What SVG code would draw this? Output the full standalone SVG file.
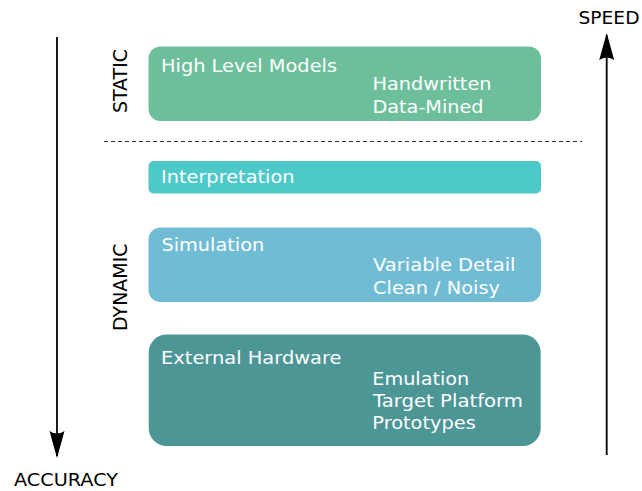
<svg xmlns="http://www.w3.org/2000/svg" width="642" height="491" viewBox="0 0 642 491">
  <defs>
    <style>
      text { font-family: "DejaVu Sans", "Liberation Sans", sans-serif; font-size: 18px; }
      .lbl { fill: #ffffff; }
      .axis { fill: #000000; }
      .axisline { stroke: #000000; stroke-width: 1.8; fill: none; }
      .sep { stroke: #333333; stroke-width: 1; stroke-dasharray: 4 3; fill: none; }
    </style>
    <marker id="arrow" markerUnits="userSpaceOnUse" viewBox="0 0 27 16" refX="25" refY="8" markerWidth="27" markerHeight="16" orient="auto">
      <path d="M27,8 L0,0.5 Q5,8 0,15.5 Z" fill="#000000"/>
    </marker>
  </defs>
  <rect width="642" height="491" fill="#ffffff"/>

  <g id="connectors">
    <line class="axisline" x1="57" y1="37" x2="57" y2="456" marker-end="url(#arrow)"/>
    <line class="axisline" x1="606.7" y1="455" x2="606.7" y2="35" marker-end="url(#arrow)"/>
    <line class="sep" x1="104" y1="141.5" x2="582" y2="141.5"/>
  </g>

  <g id="axis-labels">
    <text class="axis" x="578.5" y="24.3" textLength="61" lengthAdjust="spacingAndGlyphs">SPEED</text>
    <text class="axis" x="14" y="486" textLength="104" lengthAdjust="spacingAndGlyphs">ACCURACY</text>
    <text class="axis" transform="translate(126.5,113) scale(1.07,1) rotate(-90)" x="0" y="0" textLength="64" lengthAdjust="spacingAndGlyphs">STATIC</text>
    <text class="axis" transform="translate(126.5,331) scale(1.07,1) rotate(-90)" x="0" y="0" textLength="87.5" lengthAdjust="spacingAndGlyphs">DYNAMIC</text>
  </g>

  <g id="high-level-models">
    <rect x="148.5" y="46.5" width="392.5" height="74.5" rx="12" ry="12" fill="#6dbf9b"/>
    <text class="lbl" x="161" y="71.5" textLength="176" lengthAdjust="spacingAndGlyphs">High Level Models</text>
    <text class="lbl" x="372.5" y="89.5" textLength="119" lengthAdjust="spacingAndGlyphs">Handwritten</text>
    <text class="lbl" x="372.5" y="112.5" textLength="111" lengthAdjust="spacingAndGlyphs">Data-Mined</text>
  </g>

  <g id="interpretation">
    <rect x="148.5" y="161" width="392.5" height="32.5" rx="5" ry="5" fill="#4ec9c9"/>
    <text class="lbl" x="161" y="182.5" textLength="133.5" lengthAdjust="spacingAndGlyphs">Interpretation</text>
  </g>

  <g id="simulation">
    <rect x="148.5" y="227.5" width="392.5" height="74.5" rx="12" ry="12" fill="#70bcd5"/>
    <text class="lbl" x="161.5" y="250.5" textLength="102.7" lengthAdjust="spacingAndGlyphs">Simulation</text>
    <text class="lbl" x="373" y="271" textLength="142.5" lengthAdjust="spacingAndGlyphs">Variable Detail</text>
    <text class="lbl" x="373" y="293.5" textLength="127" lengthAdjust="spacingAndGlyphs">Clean / Noisy</text>
  </g>

  <g id="external-hardware">
    <rect x="148.7" y="334.5" width="392" height="111.5" rx="18" ry="18" fill="#4c9696"/>
    <text class="lbl" x="161" y="364" textLength="180.5" lengthAdjust="spacingAndGlyphs">External Hardware</text>
    <text class="lbl" x="372.3" y="384.5" textLength="97" lengthAdjust="spacingAndGlyphs">Emulation</text>
    <text class="lbl" x="373" y="406.7" textLength="150" lengthAdjust="spacingAndGlyphs">Target Platform</text>
    <text class="lbl" x="372.3" y="428.5" textLength="103.5" lengthAdjust="spacingAndGlyphs">Prototypes</text>
  </g>
</svg>
